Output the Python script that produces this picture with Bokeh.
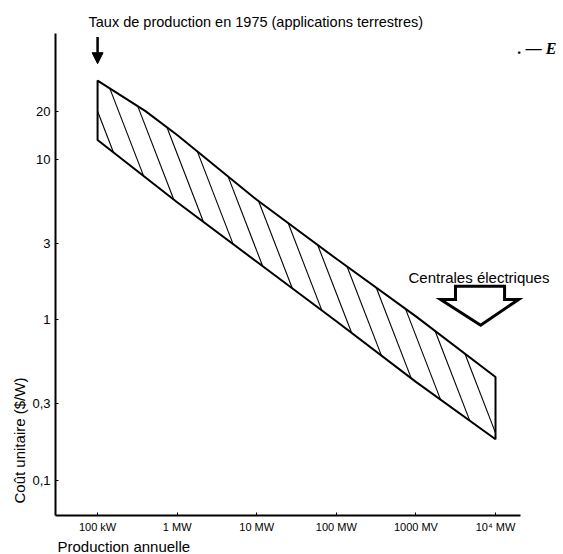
import numpy as np
from bokeh.plotting import figure
from bokeh.models import FixedTicker, Label, Arrow, NormalHead, Title
from bokeh.embed import file_html
from bokeh.resources import INLINE

# ---- data ----
top_kw = [1e2, 4e2, 1e3, 1e4, 1e5, 1e6, 1e7]          # upper edge of band
top_cost = [31.0, 20.0, 14.2, 5.6, 2.4, 1.05, 0.44]
bottom_kw = [1e2, 1e3, 1e4, 1e5, 1e6, 1e7]            # lower edge of band
bottom_cost = [13.2, 5.4, 2.3, 0.98, 0.41, 0.18]

x_ticks = [1e2, 1e3, 1e4, 1e5, 1e6, 1e7]
x_tick_labels = ["100 kW", "1 MW", "10 MW", "100 MW", "1000 MV", "10\u2074 MW"]
y_ticks = [0.1, 0.3, 1, 3, 10, 20]
y_tick_labels = ["0,1", "0,3", "1", "3", "10", "20"]

x_axis_extent = (29.6, 2.06e7)
y_axis_extent = (0.0602, 61.1)

marker_kw = 100.0            # "Taux de production en 1975"
plant_arrow_kw = [3.14e6, 1.30e7, 1.30e7, 1.95e7, 6.5e6, 2.04e6, 3.14e6]
plant_arrow_cost = [1.62, 1.62, 1.34, 1.34, 0.924, 1.34, 1.34]

FONT = "Liberation Sans"

p = figure(width=563, height=554, x_axis_type="log", y_axis_type="log",
           x_range=(29.6, 7.15e7), y_range=(0.0602, 97.9),
           output_backend="svg", toolbar_location=None,
           min_border_left=55, min_border_right=0,
           min_border_top=0, min_border_bottom=37)
p.outline_line_color = None
p.xgrid.visible = False
p.ygrid.visible = False
p.background_fill_color = "white"
p.border_fill_color = "white"

for ax in (p.xaxis, p.yaxis):
    ax.axis_line_width = 2
    ax.axis_line_color = "black"
    ax.major_tick_in = 3
    ax.major_tick_out = 0
    ax.major_tick_line_color = "black"
    ax.minor_tick_line_color = None
    ax.major_label_text_font = FONT
    ax.major_label_text_color = "black"

p.xaxis.bounds = x_axis_extent
p.xaxis.ticker = FixedTicker(ticks=x_ticks, minor_ticks=[])
p.xaxis.major_label_overrides = {float(t): l for t, l in zip(x_ticks, x_tick_labels)}
p.xaxis.major_label_text_font_size = "11px"
p.xaxis.major_label_standoff = 5

p.yaxis.bounds = y_axis_extent
p.yaxis.ticker = FixedTicker(ticks=y_ticks, minor_ticks=[])
p.yaxis.major_label_overrides = {float(t): l for t, l in zip(y_ticks, y_tick_labels)}
p.yaxis.major_label_text_font_size = "13px"
p.yaxis.major_label_standoff = 5

# axis titles as side titles (left-aligned like the original)
p.add_layout(Title(text="Coût unitaire ($/W)", align="left", offset=12,
                   text_font=FONT, text_font_size="15px", text_font_style="normal",
                   text_color="black", standoff=4), "left")
p.add_layout(Title(text="Production annuelle", align="left", offset=2,
                   text_font=FONT, text_font_size="15px", text_font_style="normal",
                   text_color="black", standoff=0), "below")

# ---- band outline ----
poly_x = top_kw + bottom_kw[::-1]
poly_y = top_cost + bottom_cost[::-1]
p.patch(poly_x, poly_y, fill_color=None, line_color="black", line_width=2)

# ---- hatching: parallel steep lines clipped to the band (in log space) ----
slope = 1.285          # decades of cost per decade of production
c_vals = np.arange(1.30, 6.07, 0.34)
vd = np.log10(poly_x) - 2.0
vl = np.log10(poly_y)
n = len(vd)
xs, ys = [], []
for c in c_vals:
    f = vl + slope * vd - c
    pts = []
    for i in range(n):
        j = (i + 1) % n
        if f[i] == 0:
            pts.append((vd[i], vl[i]))
        elif f[i] * f[j] < 0:
            t = f[i] / (f[i] - f[j])
            pts.append((vd[i] + t * (vd[j] - vd[i]), vl[i] + t * (vl[j] - vl[i])))
    if len(pts) >= 2:
        pts.sort()
        a, b = pts[0], pts[-1]
        if abs(b[1] - a[1]) > 0.02:
            xs.append([10 ** (a[0] + 2), 10 ** (b[0] + 2)])
            ys.append([10 ** a[1], 10 ** b[1]])
p.multi_line(xs, ys, line_color="black", line_width=1.1)

# ---- annotations ----
p.add_layout(Arrow(end=NormalHead(size=11, fill_color="black", line_color="black"),
                   x_start=marker_kw, y_start=58.0, x_end=marker_kw, y_end=39.5,
                   line_width=2.5, line_color="black"))

p.patch(plant_arrow_kw, plant_arrow_cost, fill_color="white",
        line_color="black", line_width=3, line_join="miter")

p.add_layout(Label(x=77, y=72.4, text="Taux de production en 1975 (applications terrestres)",
                   text_font=FONT, text_font_size="14.5px", text_align="left",
                   text_baseline="middle", text_color="black"))
p.add_layout(Label(x=8.07e5, y=1.84, text="Centrales électriques",
                   text_font=FONT, text_font_size="15px", text_align="left",
                   text_baseline="middle", text_color="black"))
p.add_layout(Label(x=1.9e7, y=49.3, text=". \u2014 E",
                   text_font="Liberation Serif", text_font_size="16px",
                   text_font_style="bold italic", text_align="left",
                   text_baseline="middle", text_color="black"))

open("out.html", "w").write(file_html(p, INLINE))
